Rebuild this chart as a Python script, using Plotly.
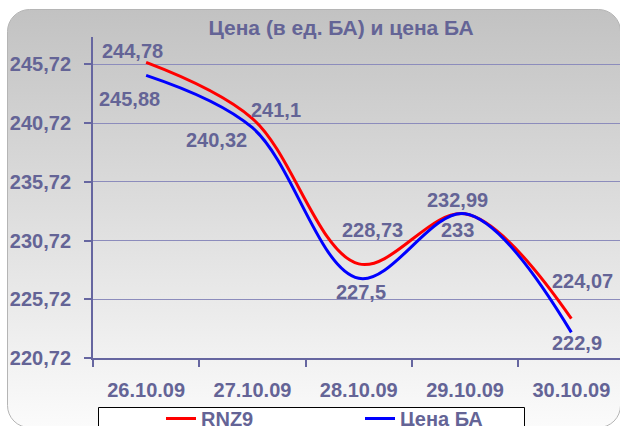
import base64
import plotly.graph_objects as go

# ---- data ----
categories = ["26.10.09", "27.10.09", "28.10.09", "29.10.09", "30.10.09"]
rnz9_values = [245.88, 241.10, 228.73, 232.99, 224.07]
ba_values = [244.78, 240.32, 227.50, 233.00, 222.90]
# data-label texts as printed on the reference chart
rnz9_labels = ["244,78", "241,1", "228,73", "232,99", "224,07"]
ba_labels = ["245,88", "240,32", "227,5", "233", "222,9"]
series_names = ["RNZ9", "Цена БА"]
title_text = "Цена (в ед. БА) и цена БА"

# ---- styling / layout (not data) ----
W, H = 620, 426
ML, MR, MT, MB = 93, 0, 37, 68
PW, PH = W - ML - MR, H - MT - MB
TXT = "#646496"
AXC = "#6666a0"
GRID = "#8c8cbc"
FONT = "Liberation Sans, Arial, sans-serif"

rnz9_shift = [(-14, 11), (24, 9), (14, 34), (-8, 14), (11, 38)]
ba_shift = [(-17, -24), (-36, -12), (2, -14), (-8, -16), (6, -11)]


def px_x(px):
    return (px - ML) / PW


def px_y(py):
    return (H - MB - py) / PH


svg = f"""<svg xmlns='http://www.w3.org/2000/svg' width='{W}' height='{H}' viewBox='0 0 {W} {H}' preserveAspectRatio='none'>
<defs><linearGradient id='g' x1='0' y1='0' x2='0' y2='1'>
<stop offset='0' stop-color='#c2c2c2'/><stop offset='1' stop-color='#fbfbfb'/></linearGradient></defs>
<rect x='7.5' y='9.5' width='613' height='418' rx='22' ry='22' fill='url(#g)' stroke='#b5b5b5' stroke-width='1'/>
</svg>"""
src = "data:image/svg+xml;base64," + base64.b64encode(svg.encode()).decode()

fig = go.Figure()
fig.add_trace(go.Scatter(x=categories, y=rnz9_values, name="<b>" + series_names[0] + "</b>", mode="lines",
                         line=dict(color="#ff0000", width=3, shape="spline", smoothing=1.0)))
fig.add_trace(go.Scatter(x=categories, y=ba_values, name="<b>" + series_names[1] + "</b>", mode="lines",
                         line=dict(color="#0000ff", width=3, shape="spline", smoothing=1.0)))

annos = []
for c, v, t, (dx, dy) in zip(categories, rnz9_values, rnz9_labels, rnz9_shift):
    annos.append(dict(x=c, y=v, xref="x", yref="y", text="<b>" + t + "</b>", showarrow=False,
                      xshift=dx, yshift=dy, font=dict(size=20, color=TXT, family=FONT)))
for c, v, t, (dx, dy) in zip(categories, ba_values, ba_labels, ba_shift):
    annos.append(dict(x=c, y=v, xref="x", yref="y", text="<b>" + t + "</b>", showarrow=False,
                      xshift=dx, yshift=dy, font=dict(size=20, color=TXT, family=FONT)))

fig.update_layout(
    width=W, height=H,
    margin=dict(l=ML, r=MR, t=MT, b=MB, autoexpand=False),
    paper_bgcolor="white", plot_bgcolor="rgba(0,0,0,0)",
    separators=", ",
    font=dict(family=FONT, size=20, color=TXT),
    title=dict(text="<b>" + title_text + "</b>", x=341 / W, xref="container", xanchor="center",
               y=1 - 28 / H, yref="container", yanchor="middle",
               font=dict(size=21, color=TXT, family=FONT)),
    showlegend=True,
    legend=dict(orientation="h", x=px_x(98), y=px_y(399),
                xanchor="left", yanchor="top", bgcolor="rgba(0,0,0,0)", borderwidth=0,
                font=dict(size=20, color=TXT, family=FONT), entrywidth=91, entrywidthmode="pixels",
                indentation=63, itemwidth=30),
    shapes=[dict(type="rect", xref="paper", yref="paper", x0=px_x(98.5), x1=px_x(524.5),
                 y0=px_y(440), y1=px_y(407.5), fillcolor="white", line=dict(color="black", width=1),
                 layer="above")],
    annotations=annos,
    images=[dict(source=src, xref="paper", yref="paper", x=-ML / PW, y=(PH + MT) / PH,
                 sizex=W / PW, sizey=H / PH, xanchor="left", yanchor="top", sizing="stretch", layer="below")],
)
fig.update_xaxes(type="category", range=[-0.5, -0.5 + PW / 106.3], tickson="boundaries",
                 ticks="outside", ticklen=7, tickcolor=AXC, tickwidth=1.5, ticklabelstandoff=13,
                 showline=True, linecolor=AXC, linewidth=2, showgrid=False,
                 tickfont=dict(size=20, color=TXT, family=FONT), tickprefix="<b>", ticksuffix="</b>")
fig.update_yaxes(range=[220.72, 248.04], tick0=220.72, dtick=5, tickformat=".2f",
                 ticks="outside", ticklen=7, tickcolor=AXC, tickwidth=1.5, ticklabelstandoff=9,
                 showline=True, linecolor=AXC, linewidth=2, showgrid=True, gridcolor=GRID, gridwidth=1,
                 zeroline=False, tickfont=dict(size=20, color=TXT, family=FONT),
                 tickprefix="<b>", ticksuffix="</b>")

fig.write_html("out.html", config={"displayModeBar": False},
               post_script="document.body.style.margin='0';document.body.style.overflow='hidden';")
